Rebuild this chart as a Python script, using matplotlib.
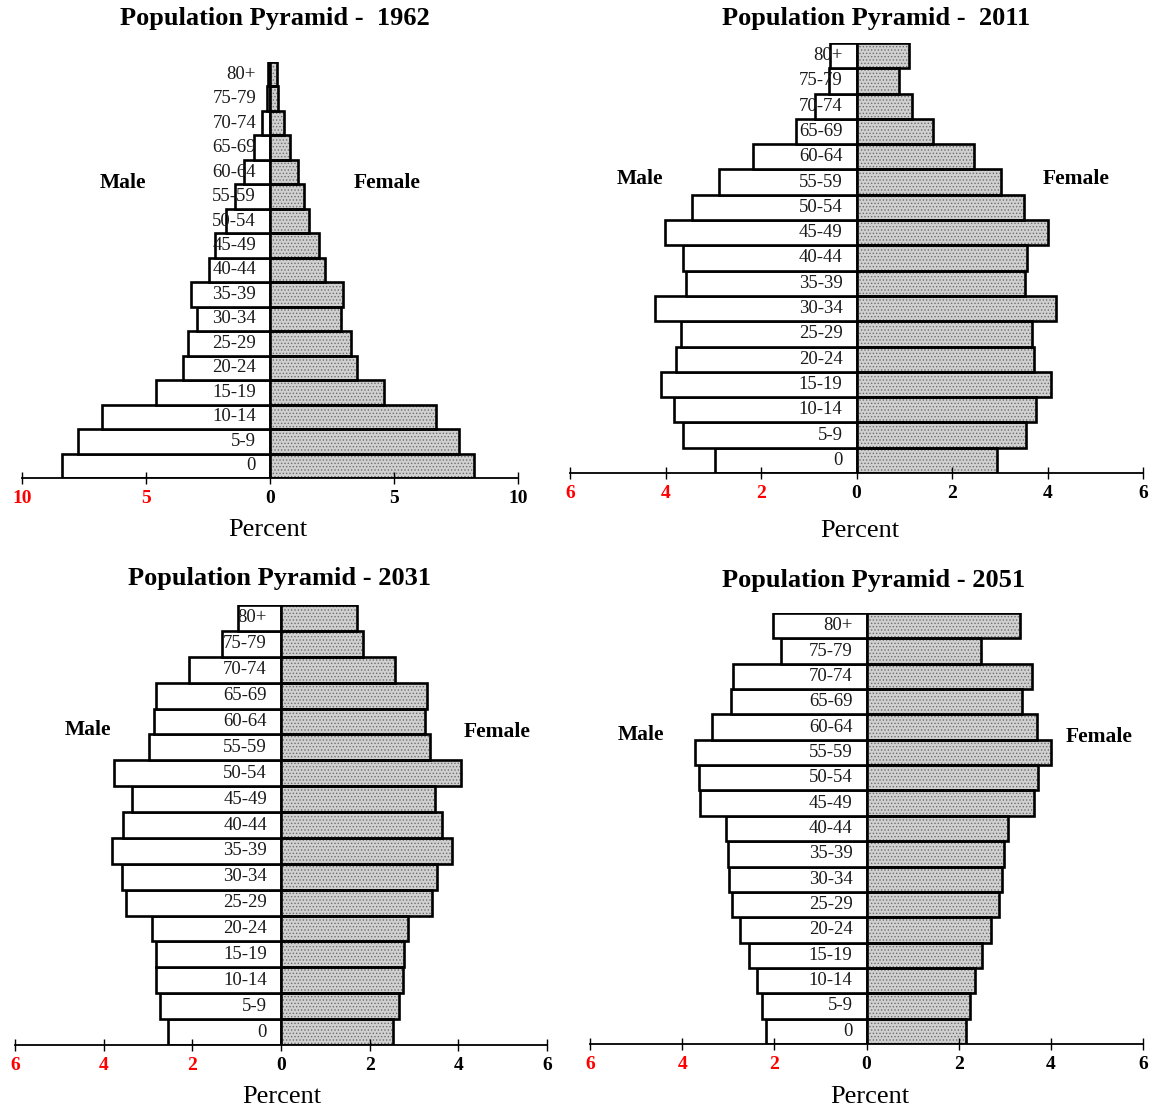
import numpy as np
import matplotlib.pyplot as plt

plt.rcParams['font.family'] = ['Liberation Serif', 'DejaVu Serif']
plt.rcParams['hatch.linewidth'] = 0.6

ages = ['0', '5-9', '10-14', '15-19', '20-24', '25-29', '30-34', '35-39', '40-44',
        '45-49', '50-54', '55-59', '60-64', '65-69', '70-74', '75-79', '80+']

male_1962 = [8.37, 7.76, 6.76, 4.60, 3.51, 3.29, 2.95, 3.19, 2.47,
             2.20, 1.78, 1.40, 1.06, 0.65, 0.33, 0.13, 0.08]
female_1962 = [8.22, 7.63, 6.69, 4.58, 3.50, 3.28, 2.85, 2.95, 2.20,
               1.96, 1.57, 1.37, 1.12, 0.81, 0.58, 0.33, 0.29]

male_2011 = [2.96, 3.63, 3.83, 4.09, 3.77, 3.68, 4.21, 3.57, 3.64,
             4.01, 3.45, 2.88, 2.17, 1.26, 0.87, 0.57, 0.55]
female_2011 = [2.95, 3.56, 3.75, 4.08, 3.72, 3.68, 4.17, 3.53, 3.58,
               4.02, 3.50, 3.03, 2.46, 1.60, 1.17, 0.88, 1.09]

male_2031 = [2.56, 2.72, 2.81, 2.83, 2.90, 3.49, 3.59, 3.81, 3.57,
             3.36, 3.77, 2.98, 2.86, 2.82, 2.08, 1.33, 0.97]
female_2031 = [2.52, 2.66, 2.76, 2.78, 2.86, 3.41, 3.52, 3.86, 3.63,
               3.48, 4.07, 3.36, 3.25, 3.29, 2.58, 1.84, 1.72]

male_2051 = [2.19, 2.27, 2.38, 2.54, 2.74, 2.91, 2.99, 3.01, 3.05,
             3.61, 3.64, 3.72, 3.35, 2.93, 2.90, 1.85, 2.03]
female_2051 = [2.16, 2.24, 2.36, 2.50, 2.70, 2.88, 2.95, 2.99, 3.08,
               3.63, 3.72, 4.01, 3.69, 3.37, 3.59, 2.48, 3.33]

W, H = 1153, 1110
fig = plt.figure(figsize=(W / 100, H / 100), dpi=100)


def px(x, y):
    return x / W, 1 - y / H


def pyramid(rect, male, female, lim, step, title, title_xy, male_xy, female_xy, pct_xy):
    x0, y0, x1, y1 = rect
    ax = fig.add_axes([x0 / W, 1 - y1 / H, (x1 - x0) / W, (y1 - y0) / H])
    y = np.arange(len(ages))
    m = np.array(male)
    f = np.array(female)
    ax.barh(y, -m, height=1.0, color='white', edgecolor='black', linewidth=1.9)
    ax.barh(y, f, height=1.0, color='#d0d0d0', edgecolor='#6e6e6e', hatch='.....', linewidth=0)
    ax.barh(y, f, height=1.0, fill=False, edgecolor='black', linewidth=1.9)
    for i, lab in enumerate(ages):
        ax.annotate(lab, xy=(0, i), xytext=(-14, 0), textcoords='offset pixels',
                    ha='right', va='center', fontsize=13.5, color='#1a1a1a')
    ax.set_xlim(-lim, lim)
    ax.set_ylim(-0.5, len(ages) - 0.5)
    ticks = np.arange(-lim, lim + step, step)
    ax.set_xticks(ticks)
    ax.set_xticklabels([str(abs(int(t))) for t in ticks], fontsize=14, fontweight='bold')
    for t, lbl in zip(ticks, ax.get_xticklabels()):
        lbl.set_color('#ff0000' if t < 0 else 'black')
    ax.set_yticks([])
    for s in ['left', 'right', 'top']:
        ax.spines[s].set_visible(False)
    ax.spines['bottom'].set_linewidth(1.3)
    ax.tick_params(axis='x', direction='inout', length=9, width=1, pad=4)
    ax.patch.set_alpha(0)

    fig.text(*px(*title_xy), title, ha='center', va='center', fontsize=19, fontweight='bold')
    fig.text(*px(*male_xy), 'Male', ha='center', va='center', fontsize=15.5, fontweight='bold')
    fig.text(*px(*female_xy), 'Female', ha='center', va='center', fontsize=15.5, fontweight='bold')
    fig.text(*px(*pct_xy), 'Percent', ha='center', va='center', fontsize=19)
    return ax


pyramid((22, 62, 518, 478), male_1962, female_1962, 10, 5, 'Population Pyramid -  1962',
        (275, 19), (123, 183), (387, 183), (268, 530))
pyramid((570, 43, 1143, 473), male_2011, female_2011, 6, 2, 'Population Pyramid -  2011',
        (876, 18), (640, 179), (1076, 179), (860, 531))
pyramid((15, 605, 547, 1045), male_2031, female_2031, 6, 2, 'Population Pyramid - 2031',
        (280, 578), (88, 730), (497, 732), (282, 1097))
pyramid((590, 613, 1143, 1044), male_2051, female_2051, 6, 2, 'Population Pyramid - 2051',
        (874, 581), (641, 735), (1099, 737), (870, 1097))

fig.savefig('out.png', dpi=100)
